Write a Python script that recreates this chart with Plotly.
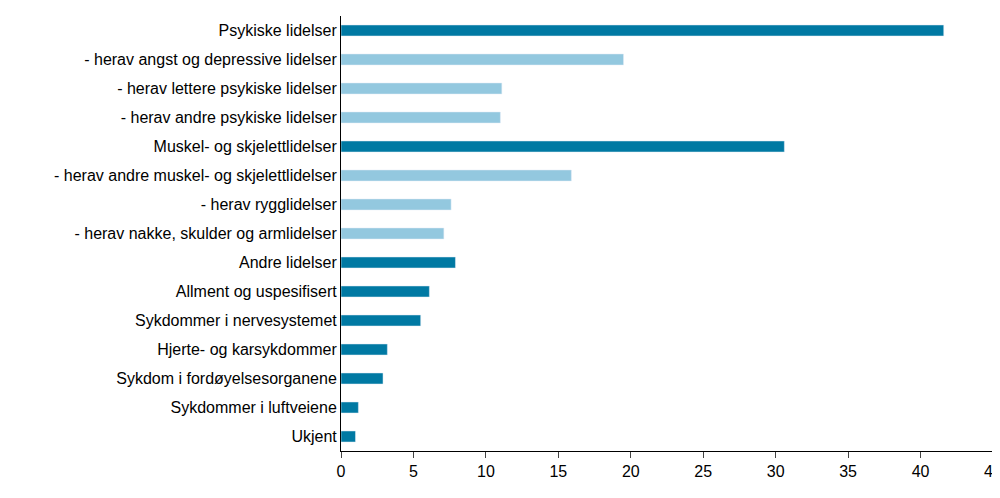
import plotly.graph_objects as go

categories = [
    "Psykiske lidelser",
    "- herav angst og depressive lidelser",
    "- herav lettere psykiske lidelser",
    "- herav andre psykiske lidelser",
    "Muskel- og skjelettlidelser",
    "- herav andre muskel- og skjelettlidelser",
    "- herav rygglidelser",
    "- herav nakke, skulder og armlidelser",
    "Andre lidelser",
    "Allment og uspesifisert",
    "Sykdommer i nervesystemet",
    "Hjerte- og karsykdommer",
    "Sykdom i fordøyelsesorganene",
    "Sykdommer i luftveiene",
    "Ukjent",
]
values = [41.6, 19.5, 11.1, 11.0, 30.6, 15.9, 7.6, 7.1, 7.9, 6.1, 5.5, 3.2, 2.9, 1.2, 1.0]
is_sub = [c.startswith("-") for c in categories]

dark = "#0079a3"
light = "#93c8df"
colors = [light if s else dark for s in is_sub]

fig = go.Figure(go.Bar(
    x=values, y=categories, orientation="h",
    marker_color=colors, width=0.38,
))
fig.update_layout(
    width=1000, height=498,
    margin=dict(l=333, r=15, t=8, b=55),
    plot_bgcolor="white", paper_bgcolor="white",
    font=dict(family="Liberation Sans, Arial", size=16, color="black"),
    showlegend=False,
)
fig.update_xaxes(range=[0, 45], dtick=5, showgrid=False, showline=True,
                 linecolor="black", ticks="outside", ticklen=6, zeroline=False,
                 automargin=False)
fig.update_yaxes(autorange="reversed", showline=True, linecolor="black",
                 ticks="outside", ticklen=0, showgrid=False, automargin=False)
fig.write_html("out.html")
